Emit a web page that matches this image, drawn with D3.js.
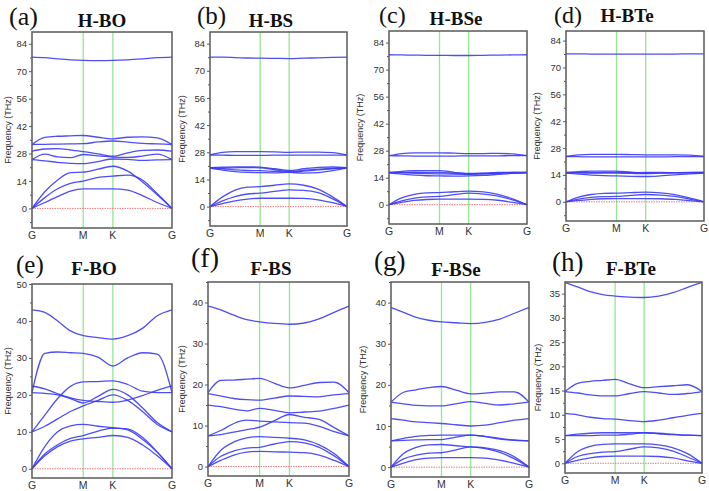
<!DOCTYPE html>
<html><head><meta charset="utf-8">
<script src="https://cdn.jsdelivr.net/npm/d3@7"></script>
<style>
html,body{margin:0;padding:0;background:#fff;}
svg{display:block;}
</style></head>
<body>
<svg id="chart" width="709" height="491"></svg>
<script>
// ---------- DATA ----------
const pathLabels = ["G", "M", "K", "G"];
const pathTicks = [0, 0.577, 0.911, 1.577];
const qGrid = [0, 0.144, 0.289, 0.433, 0.577, 0.744, 0.911, 1.078, 1.244, 1.411, 1.577];

const panelLetters = ["(a)", "(b)", "(c)", "(d)", "(e)", "(f)", "(g)", "(h)"];
const materials = ["H-BO", "H-BS", "H-BSe", "H-BTe", "F-BO", "F-BS", "F-BSe", "F-BTe"];

const ticksH = [0, 14, 28, 42, 56, 70, 84];
const ticksFBO = [0, 10, 20, 30, 40, 50];
const ticksFBS = [0, 10, 20, 30, 40];
const ticksFBTe = [0, 5, 10, 15, 20, 25, 30, 35];
const minorSteps = [7, 7, 7, 7, 5, 5, 5, 2.5];
const yDomains = [[-10, 90], [-10, 90], [-10, 90], [-10, 89], [-2.5, 50], [-2.3, 45], [-2.4, 45], [-2, 37.4]];

const bandsHBO = [
  [77.2, 76.9, 76.3, 75.8, 75.5, 75.4, 75.5, 75.8, 76.3, 76.9, 77.2],
  [32.6, 36.2, 36.8, 37.0, 37.2, 36.3, 35.5, 36.3, 36.5, 36.0, 32.6],
  [32.6, 32.7, 32.8, 32.9, 33.0, 33.9, 34.4, 33.8, 33.2, 32.9, 32.6],
  [29.2, 30.3, 30.5, 29.8, 29.0, 27.8, 26.6, 28.3, 29.6, 29.8, 29.2],
  [24.9, 27.7, 26.3, 25.9, 27.5, 26.8, 26.2, 26.0, 26.7, 27.7, 24.9],
  [24.9, 24.3, 23.5, 23.0, 22.8, 23.9, 25.2, 25.0, 24.5, 24.8, 24.9],
  [0, 8.5, 14.5, 18.3, 18.5, 20.0, 21.5, 19.0, 13.5, 7.0, 0],
  [0, 5.5, 10.0, 12.8, 13.9, 15.8, 16.5, 17.0, 14.5, 7.5, 0],
  [0, 3.0, 6.0, 8.8, 10.0, 10.0, 10.0, 9.3, 6.5, 3.0, 0]
];
const bandsHBS = [
  [77.1, 77.0, 76.8, 76.6, 76.5, 76.4, 76.3, 76.5, 76.7, 76.9, 77.1],
  [26.6, 27.9, 28.3, 28.3, 28.3, 28.2, 28.0, 28.1, 28.1, 27.8, 26.6],
  [26.6, 26.5, 26.4, 26.4, 26.4, 26.5, 26.5, 26.5, 26.5, 26.5, 26.6],
  [20.1, 20.3, 20.5, 20.5, 20.3, 19.5, 18.6, 19.5, 20.2, 20.4, 20.1],
  [20.1, 19.5, 18.9, 18.6, 18.5, 18.2, 17.9, 18.3, 18.9, 19.5, 20.1],
  [19.8, 18.8, 18.0, 17.6, 17.5, 17.4, 17.6, 17.3, 17.5, 18.5, 19.8],
  [19.8, 19.9, 20.0, 20.1, 20.0, 19.0, 18.1, 18.7, 19.3, 19.7, 19.8],
  [0, 5.0, 8.5, 10.0, 10.3, 11.0, 11.7, 11.0, 9.0, 5.0, 0],
  [0, 3.0, 5.2, 6.5, 6.9, 7.8, 8.6, 8.4, 7.2, 4.0, 0],
  [0, 1.5, 3.0, 3.9, 4.3, 4.3, 4.3, 4.2, 3.5, 2.0, 0]
];
const bandsHBSe = [
  [77.7, 77.6, 77.5, 77.4, 77.4, 77.3, 77.3, 77.4, 77.5, 77.6, 77.7],
  [25.4, 26.5, 26.9, 26.9, 26.9, 26.7, 26.5, 26.5, 26.6, 26.3, 25.4],
  [25.4, 25.3, 25.2, 25.2, 25.2, 25.2, 25.3, 25.3, 25.3, 25.4, 25.4],
  [16.8, 17.3, 17.6, 17.7, 17.7, 16.8, 16.2, 16.4, 16.7, 16.8, 16.8],
  [16.8, 16.6, 16.3, 16.1, 16.0, 15.9, 15.9, 16.2, 16.5, 16.7, 16.8],
  [16.5, 15.8, 15.3, 15.0, 14.9, 14.8, 14.9, 15.2, 15.7, 16.2, 16.5],
  [16.5, 16.6, 16.7, 16.8, 16.8, 16.3, 15.7, 15.9, 16.2, 16.4, 16.5],
  [0, 3.5, 5.3, 6.1, 6.3, 6.7, 7.0, 6.6, 5.3, 3.0, 0],
  [0, 2.0, 3.4, 4.1, 4.3, 5.2, 6.0, 5.5, 4.5, 2.5, 0],
  [0, 1.2, 2.2, 2.7, 2.9, 2.9, 2.9, 2.8, 2.3, 1.2, 0]
];
const bandsHBTe = [
  [77.1, 77.1, 77.0, 77.0, 77.0, 77.0, 77.0, 77.0, 77.0, 77.1, 77.1],
  [23.6, 24.5, 24.7, 24.7, 24.7, 24.6, 24.5, 24.5, 24.5, 24.3, 23.6],
  [23.6, 23.5, 23.4, 23.4, 23.4, 23.4, 23.4, 23.4, 23.5, 23.5, 23.6],
  [15.3, 15.7, 16.0, 16.0, 16.0, 15.4, 15.0, 15.1, 15.2, 15.3, 15.3],
  [15.3, 15.2, 15.0, 14.9, 14.9, 14.8, 14.7, 14.9, 15.1, 15.2, 15.3],
  [15.0, 14.4, 13.9, 13.6, 13.5, 13.3, 13.2, 13.5, 14.0, 14.6, 15.0],
  [15.0, 15.1, 15.2, 15.3, 15.3, 15.2, 15.3, 15.3, 15.2, 15.1, 15.0],
  [0, 2.5, 3.8, 4.4, 4.5, 4.8, 5.0, 4.7, 3.8, 2.0, 0],
  [0, 1.4, 2.3, 2.7, 2.8, 3.4, 3.8, 3.5, 2.8, 1.4, 0],
  [0, 0.7, 1.3, 1.6, 1.7, 1.7, 1.7, 1.6, 1.3, 0.6, 0]
];
const bandsFBO = [
  [43.0, 42.3, 40.0, 37.3, 36.0, 35.5, 35.1, 36.0, 38.0, 41.4, 43.0],
  [20.6, 31.2, 31.6, 31.4, 31.2, 30.2, 27.8, 30.0, 31.4, 31.0, 20.6],
  [10.0, 14.5, 19.0, 22.3, 23.5, 23.6, 23.8, 22.8, 21.0, 20.6, 20.6],
  [22.4, 21.6, 20.3, 19.2, 18.5, 18.2, 18.0, 18.6, 19.8, 21.2, 22.4],
  [20.6, 20.4, 20.0, 19.0, 17.8, 19.6, 21.5, 20.0, 16.5, 12.5, 10.0],
  [10.0, 11.5, 13.5, 15.5, 17.0, 18.5, 20.0, 18.5, 15.5, 12.0, 10.0],
  [0, 6.0, 10.0, 11.6, 12.0, 11.5, 11.1, 10.5, 8.0, 4.5, 0],
  [0, 4.0, 6.5, 8.2, 9.0, 10.2, 11.0, 10.8, 8.5, 4.5, 0],
  [0, 3.5, 6.0, 7.5, 8.1, 8.5, 9.0, 8.5, 6.5, 3.5, 0]
];
const bandsFBS = [
  [39.1, 38.2, 36.9, 35.8, 35.3, 34.9, 34.7, 35.0, 36.0, 37.6, 39.1],
  [18.0, 21.0, 21.1, 21.3, 21.5, 20.3, 19.2, 19.8, 20.5, 20.6, 18.0],
  [17.8, 17.2, 16.6, 16.3, 16.2, 16.7, 17.2, 17.1, 17.0, 17.5, 17.8],
  [15.0, 14.6, 14.0, 13.6, 14.2, 13.7, 13.1, 13.3, 13.5, 14.2, 15.0],
  [7.5, 8.8, 10.5, 11.3, 11.1, 10.9, 10.7, 10.6, 9.8, 8.5, 7.5],
  [7.5, 7.8, 8.4, 9.0, 9.6, 11.2, 12.7, 12.0, 11.5, 9.5, 7.5],
  [0, 4.0, 6.0, 7.0, 7.3, 7.1, 6.9, 6.5, 5.3, 3.2, 0],
  [0, 2.5, 3.8, 4.5, 4.7, 5.5, 6.1, 5.8, 4.7, 2.6, 0],
  [0, 1.5, 2.8, 3.5, 3.7, 3.6, 3.5, 3.4, 2.8, 1.5, 0]
];
const bandsFBSe = [
  [38.8, 37.6, 36.4, 35.7, 35.3, 35.1, 34.9, 35.2, 36.0, 37.4, 38.8],
  [15.8, 18.2, 18.8, 19.3, 19.6, 18.7, 17.8, 18.0, 18.3, 18.3, 15.8],
  [15.8, 15.4, 15.0, 14.9, 14.9, 15.4, 15.9, 15.5, 15.1, 15.4, 15.8],
  [11.8, 11.4, 11.0, 10.8, 10.6, 10.3, 10.0, 10.2, 10.8, 11.4, 11.8],
  [6.4, 7.0, 7.5, 7.7, 7.8, 7.8, 7.8, 7.5, 7.0, 6.6, 6.4],
  [6.4, 6.5, 6.6, 6.7, 6.7, 7.3, 7.8, 7.4, 6.8, 6.5, 6.4],
  [0, 3.3, 4.8, 5.4, 5.5, 5.2, 4.9, 4.7, 4.0, 2.5, 0],
  [0, 2.0, 2.9, 3.4, 3.5, 4.2, 4.9, 4.5, 3.6, 2.0, 0],
  [0, 1.0, 1.8, 2.2, 2.3, 2.3, 2.3, 2.2, 1.7, 0.9, 0]
];
const bandsFBTe = [
  [37.3, 36.4, 35.4, 34.8, 34.5, 34.3, 34.2, 34.5, 35.2, 36.3, 37.3],
  [14.8, 16.5, 16.9, 17.1, 17.3, 16.4, 15.6, 15.8, 16.0, 16.2, 14.8],
  [14.8, 14.5, 14.1, 13.9, 13.9, 14.4, 14.8, 14.5, 14.2, 14.4, 14.8],
  [10.3, 10.0, 9.5, 9.2, 9.1, 8.8, 8.6, 8.9, 9.4, 9.9, 10.3],
  [5.7, 6.0, 6.2, 6.3, 6.3, 6.3, 6.3, 6.2, 6.0, 5.8, 5.7],
  [5.7, 5.7, 5.7, 5.8, 5.8, 6.0, 6.3, 6.1, 5.9, 5.8, 5.7],
  [0, 2.4, 3.5, 3.9, 4.0, 4.0, 4.0, 3.8, 3.2, 2.0, 0],
  [0, 1.4, 2.0, 2.3, 2.4, 2.9, 3.4, 3.2, 2.5, 1.3, 0],
  [0, 0.6, 1.1, 1.4, 1.5, 1.5, 1.5, 1.4, 1.1, 0.5, 0]
];

// ---------- LAYOUT (pixels) ----------
const boxes = [
  {l: 32, r: 172, t: 32, b: 228},
  {l: 210, r: 347, t: 32, b: 226},
  {l: 389, r: 527, t: 31, b: 224},
  {l: 566, r: 704, t: 31, b: 221},
  {l: 32, r: 172, t: 284, b: 478},
  {l: 208, r: 349, t: 282, b: 476},
  {l: 391, r: 529, t: 282, b: 477},
  {l: 565, r: 702, t: 282, b: 473}
];
const letterPos = [
  {x: 9, y: 25, s: 26}, {x: 197, y: 24, s: 25}, {x: 379, y: 23, s: 24}, {x: 554, y: 23, s: 24},
  {x: 16, y: 273, s: 25}, {x: 191, y: 267, s: 28}, {x: 374, y: 270, s: 27}, {x: 552, y: 271, s: 27}
];
const namePos = [
  {x: 102, y: 27}, {x: 271, y: 27}, {x: 456, y: 25}, {x: 627, y: 22},
  {x: 94, y: 275}, {x: 271, y: 275}, {x: 456, y: 276}, {x: 631, y: 275}
];
const yLabelX = [8, 182, 360, 537, 8, 182, 363, 538];

const allBands = [bandsHBO, bandsHBS, bandsHBSe, bandsHBTe, bandsFBO, bandsFBS, bandsFBSe, bandsFBTe];
const allTicks = [ticksH, ticksH, ticksH, ticksH, ticksFBO, ticksFBS, ticksFBS, ticksFBTe];

const svg = d3.select("#chart");
const BLUE = "#3b3bf5", GREEN = "#93e893", RED = "#f07a7a", FRAME = "#5a5a5a";

allBands.forEach((bands, i) => {
  const bx = boxes[i];
  const x = d3.scaleLinear().domain([pathTicks[0], pathTicks[pathTicks.length - 1]]).range([bx.l, bx.r]);
  const y = d3.scaleLinear().domain(yDomains[i]).range([bx.b, bx.t]);
  const g = svg.append("g");

  // high-symmetry vertical lines
  g.selectAll("line.hs").data(pathTicks.slice(1, -1)).join("line")
    .attr("x1", d => x(d)).attr("x2", d => x(d))
    .attr("y1", bx.t).attr("y2", bx.b)
    .attr("stroke", GREEN).attr("stroke-width", 1.3);

  // zero line
  g.append("line")
    .attr("x1", bx.l).attr("x2", bx.r).attr("y1", y(0)).attr("y2", y(0))
    .attr("stroke", RED).attr("stroke-width", 1).attr("stroke-dasharray", "1.5,1");

  // bands
  const line = d3.line().x((d, k) => x(qGrid[k])).y(d => y(d)).curve(d3.curveMonotoneX);
  g.selectAll("path.band").data(bands).join("path")
    .attr("d", line).attr("fill", "none")
    .attr("stroke", BLUE).attr("stroke-width", 1.3).attr("stroke-opacity", 0.9);

  // frame
  g.append("rect").attr("x", bx.l).attr("y", bx.t)
    .attr("width", bx.r - bx.l).attr("height", bx.b - bx.t)
    .attr("fill", "none").attr("stroke", FRAME).attr("stroke-width", 1.5);

  // y axis major
  const majors = allTicks[i];
  const yAx = g.append("g").attr("transform", `translate(${bx.l},0)`)
    .call(d3.axisLeft(y).tickValues(majors).tickSize(3).tickPadding(2).tickFormat(d3.format("d")));
  yAx.select(".domain").remove();
  yAx.selectAll("line").attr("stroke", FRAME);
  yAx.selectAll("text").attr("font-family", "Liberation Sans, Arial, sans-serif")
    .attr("font-size", 9.5).attr("fill", "#333");

  // y axis minor
  const step = minorSteps[i];
  const minors = d3.range(Math.ceil(yDomains[i][0] / step) * step, yDomains[i][1] + 1e-6, step)
    .filter(v => !majors.some(m => Math.abs(m - v) < 1e-6));
  const yMin = g.append("g").attr("transform", `translate(${bx.l},0)`)
    .call(d3.axisLeft(y).tickValues(minors).tickSize(2).tickFormat(""));
  yMin.select(".domain").remove();
  yMin.selectAll("line").attr("stroke", FRAME);

  // x labels
  g.selectAll("text.xl").data(pathTicks).join("text")
    .attr("x", d => x(d)).attr("y", bx.b + 10.5)
    .attr("text-anchor", "middle")
    .attr("font-family", "Liberation Sans, Arial, sans-serif").attr("font-size", 10.5).attr("fill", "#333")
    .text((d, k) => pathLabels[k]);

  // y label
  g.append("text")
    .attr("transform", `translate(${yLabelX[i] + 3},${(bx.t + bx.b) / 2}) rotate(-90)`)
    .attr("text-anchor", "middle")
    .attr("font-family", "Liberation Sans, Arial, sans-serif").attr("font-size", 9).attr("fill", "#333")
    .text("Frequency (THz)");

  // panel letter
  const lp = letterPos[i];
  svg.append("text").attr("x", lp.x).attr("y", lp.y)
    .attr("font-family", "Liberation Serif, Times New Roman, serif").attr("font-size", lp.s).attr("fill", "#111")
    .text(panelLetters[i]);
  // material name
  const np = namePos[i];
  svg.append("text").attr("x", np.x).attr("y", np.y).attr("text-anchor", "middle")
    .attr("font-family", "Liberation Serif, Times New Roman, serif").attr("font-weight", "bold")
    .attr("font-size", 19).attr("fill", "#111")
    .text(materials[i]);
});
</script>
</body></html>
